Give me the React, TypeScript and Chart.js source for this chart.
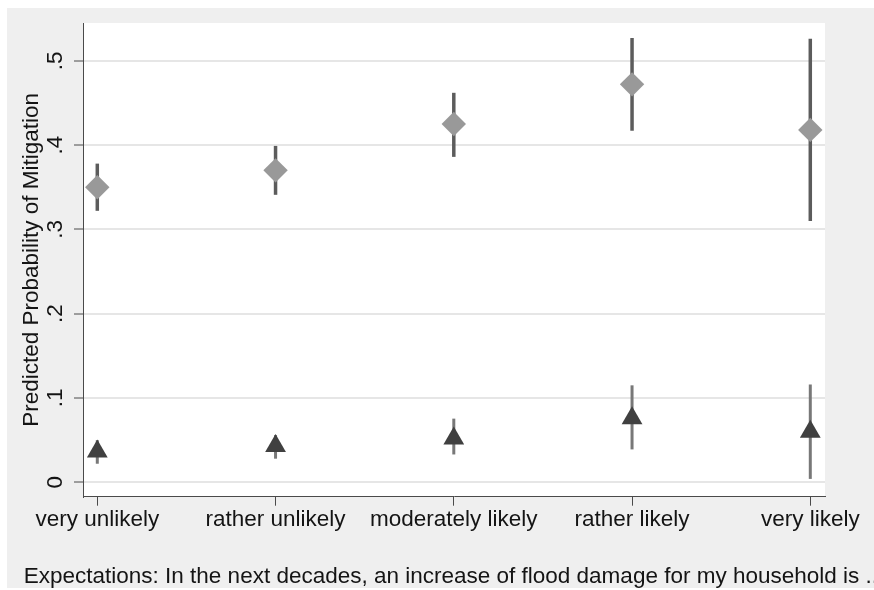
import React, { useEffect, useRef } from "react";
import { Chart, registerables } from "chart.js";

Chart.register(...registerables);

const categories = ["very unlikely", "rather unlikely", "moderately likely", "rather likely", "very likely"];
const yTickValues = [0, 0.1, 0.2, 0.3, 0.4, 0.5];
const yTickLabels = ["0", ".1", ".2", ".3", ".4", ".5"];

// Upper series (diamonds)
const diamondMean = [0.350, 0.370, 0.425, 0.472, 0.418];
const diamondLow = [0.322, 0.341, 0.386, 0.417, 0.310];
const diamondHigh = [0.378, 0.399, 0.462, 0.527, 0.526];

// Lower series (triangles)
const triangleMean = [0.0365, 0.043, 0.052, 0.076, 0.060];
const triangleLow = [0.022, 0.028, 0.033, 0.039, 0.004];
const triangleHigh = [0.050, 0.056, 0.0755, 0.115, 0.116];

const yTitle = "Predicted Probability of Mitigation";
const xTitle = "Expectations: In the next decades, an increase of flood damage for my household is ...";

const FONT_FAMILY = '"Liberation Sans", Arial, sans-serif';
const FONT_SIZE = 22.5;
const TEXT_COLOR = "#141414";
const AXIS_COLOR = "#4a4a4a";

export default function App() {
  const canvasRef = useRef<HTMLCanvasElement | null>(null);

  useEffect(() => {
    const canvas = canvasRef.current;
    if (!canvas) return;

    const backgroundPlugin = {
      id: "bgPlugin",
      beforeDraw(chart: any) {
        const { ctx, chartArea, width, height } = chart;
        ctx.save();
        ctx.fillStyle = "#efefef";
        ctx.fillRect(0, 0, width, height);
        ctx.fillStyle = "#ffffff";
        ctx.fillRect(chartArea.left, chartArea.top, chartArea.right - chartArea.left, chartArea.bottom - chartArea.top);
        ctx.restore();
      },
    };

    const errorBarPlugin = {
      id: "errorBars",
      beforeDatasetsDraw(chart: any) {
        const { ctx } = chart;
        const xs = chart.scales.x;
        const ys = chart.scales.y;
        const drawBars = (low: number[], high: number[], color: string, width: number) => {
          ctx.save();
          ctx.strokeStyle = color;
          ctx.lineWidth = width;
          ctx.lineCap = "butt";
          for (let i = 0; i < categories.length; i++) {
            const px = xs.getPixelForValue(i);
            ctx.beginPath();
            ctx.moveTo(px, ys.getPixelForValue(low[i]));
            ctx.lineTo(px, ys.getPixelForValue(high[i]));
            ctx.stroke();
          }
          ctx.restore();
        };
        drawBars(diamondLow, diamondHigh, "#5c5c5c", 3.5);
        drawBars(triangleLow, triangleHigh, "#787878", 3);
      },
    };

    const xTitlePlugin = {
      id: "xTitle",
      afterDraw(chart: any) {
        const { ctx, chartArea } = chart;
        ctx.save();
        ctx.font = `${FONT_SIZE}px ${FONT_FAMILY}`;
        ctx.fillStyle = TEXT_COLOR;
        ctx.textAlign = "center";
        ctx.textBaseline = "alphabetic";
        ctx.fillText(xTitle, (chartArea.left + chartArea.right) / 2, chartArea.bottom + 86.6);
        ctx.restore();
      },
    };

    const chart = new Chart(canvas, {
      type: "scatter",
      data: {
        datasets: [
          {
            label: "diamonds",
            data: diamondMean.map((v, i) => ({ x: i, y: v })),
            pointStyle: "rectRot",
            pointRadius: 12.2,
            pointHoverRadius: 12.2,
            pointBackgroundColor: "#999999",
            pointBorderWidth: 0,
            pointBorderColor: "#999999",
            showLine: false,
          },
          {
            label: "triangles",
            data: triangleMean.map((v, i) => ({ x: i, y: v })),
            pointStyle: "triangle",
            pointRadius: 12,
            pointHoverRadius: 12,
            pointBackgroundColor: "#404040",
            pointBorderWidth: 0,
            pointBorderColor: "#404040",
            showLine: false,
          },
        ],
      },
      options: {
        animation: false,
        responsive: false,
        devicePixelRatio: 1,
        layout: { padding: { top: 15, right: 49, left: 0, bottom: 0 } },
        plugins: {
          legend: { display: false },
          tooltip: { enabled: false },
        },
        events: [],
        scales: {
          x: {
            type: "linear",
            min: -0.0802,
            max: 4.0825,
            afterBuildTicks: (s: any) => {
              s.ticks = categories.map((_, i) => ({ value: i }));
            },
            afterFit: (s: any) => {
              s.height = 91.3;
              s.paddingLeft = 0;
              s.paddingRight = 0;
            },
            ticks: {
              autoSkip: false,
              maxRotation: 0,
              minRotation: 0,
              padding: 0.5,
              color: TEXT_COLOR,
              font: { family: FONT_FAMILY, size: FONT_SIZE },
              callback: (v: any) => categories[Math.round(Number(v))],
            },
            grid: {
              display: true,
              drawOnChartArea: false,
              drawTicks: true,
              tickLength: 9,
              tickColor: AXIS_COLOR,
              tickWidth: 1,
            },
            border: { display: true, color: AXIS_COLOR, width: 1 },
          },
          y: {
            type: "linear",
            min: -0.0171,
            max: 0.5448,
            afterBuildTicks: (s: any) => {
              s.ticks = yTickValues.map((v) => ({ value: v }));
            },
            afterFit: (s: any) => {
              s.width = 76;
              s.paddingTop = 0;
              s.paddingBottom = 0;
            },
            ticks: {
              minRotation: 90,
              maxRotation: 90,
              crossAlign: "center",
              padding: 9,
              color: TEXT_COLOR,
              font: { family: FONT_FAMILY, size: FONT_SIZE },
              callback: (v: any) => {
                const idx = yTickValues.findIndex((t) => Math.abs(t - Number(v)) < 1e-9);
                return idx >= 0 ? yTickLabels[idx] : "";
              },
            },
            grid: {
              color: "#e6e6e6",
              lineWidth: 2,
              tickColor: AXIS_COLOR,
              tickWidth: 1,
              tickLength: 9,
            },
            border: { display: true, color: AXIS_COLOR, width: 1 },
            title: {
              display: true,
              text: yTitle,
              color: TEXT_COLOR,
              font: { family: FONT_FAMILY, size: FONT_SIZE },
              padding: { top: 11, bottom: 0 },
            },
          },
        },
      } as any,
      plugins: [backgroundPlugin, errorBarPlugin, xTitlePlugin],
    });

    return () => {
      chart.destroy();
    };
  }, []);

  return (
    <div style={{ position: "absolute", left: 7, top: 8, width: 867, height: 580 }}>
      <canvas ref={canvasRef} width={867} height={580} style={{ display: "block", width: 867, height: 580 }} />
    </div>
  );
}
